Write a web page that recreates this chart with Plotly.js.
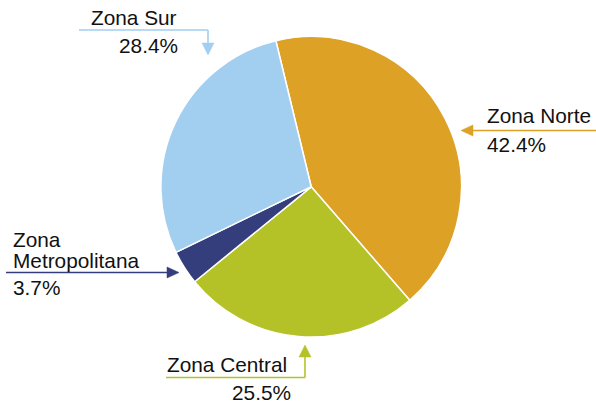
<!DOCTYPE html>
<html><head><meta charset="utf-8">
<script src="https://cdn.plot.ly/plotly-3.0.1.min.js"></script>
<style>html,body{margin:0;padding:0;background:#fff}#chart{width:596px;height:403px}</style>
</head><body><div id="chart"></div>
<script>
const categories = ["Zona Norte", "Zona Central", "Zona Metropolitana", "Zona Sur"];
const shares = [42.4, 25.5, 3.7, 28.4];
const colors = ["#DDA125", "#B5C227", "#343E7C", "#A2CEF0"];
const pctLabels = ["42.4%", "25.5%", "3.7%", "28.4%"];

const W = 596, H = 403;
const px = x => x / W, py = y => 1 - y / H;
const cx = 311.2, cy = 186.8, R = 150.3;
const font = {family: "Liberation Sans, Arial, sans-serif", size: 20.8, color: "#111"};

function txt(t, x, y) {
  return {text: t, x: px(x), y: py(y), xref: "paper", yref: "paper", xanchor: "left", yanchor: "middle",
          showarrow: false, font: font, borderpad: 0};
}
function line(x0, y0, x1, y1, c) {
  return {type: "line", xref: "paper", yref: "paper", x0: px(x0), y0: py(y0), x1: px(x1), y1: py(y1),
          line: {color: c, width: 1.6}};
}
function tri(pts, c) {
  const p = "M" + pts.map(q => px(q[0]) + "," + py(q[1])).join("L") + "Z";
  return {type: "path", xref: "paper", yref: "paper", path: p, fillcolor: c, line: {color: c, width: 0.5}};
}

const shapes = [
  // Zona Sur
  line(79, 30, 208, 30, colors[3]), line(208, 30, 208, 44, colors[3]),
  tri([[202, 43], [214, 43], [208, 55]], colors[3]),
  // Zona Norte
  line(472, 130.5, 596, 130.5, colors[0]),
  tri([[473, 125], [473, 136], [461, 130.5]], colors[0]),
  // Metropolitana
  line(6, 272.5, 168, 272.5, colors[2]),
  tri([[167, 267], [167, 278], [179, 272.5]], colors[2]),
  // Central
  line(166, 377.5, 305, 377.5, colors[1]), line(305, 377.5, 305, 356, colors[1]),
  tri([[299, 357], [311, 357], [305, 345]], colors[1])
];

const annotations = [
  txt(categories[3], 90, 18), txt(pctLabels[3], 118, 46),
  txt(categories[0], 486, 115.5), txt(pctLabels[0], 486, 144.5),
  txt("Zona", 12, 239), txt("Metropolitana", 12, 260.5), txt(pctLabels[2], 12, 287.5),
  txt("Zona Central", 166, 364.5), txt(pctLabels[1], 231, 392.5)
];

const trace = {
  type: "pie", labels: categories, values: shares, sort: false, direction: "clockwise",
  rotation: -13.6, textinfo: "none", hoverinfo: "label+percent",
  marker: {colors: colors, line: {color: "#ffffff", width: 1.5}},
  domain: {x: [px(cx - R), px(cx + R)], y: [py(cy + R), py(cy - R)]}
};

Plotly.newPlot("chart", [trace], {
  width: W, height: H, margin: {l: 0, r: 0, t: 0, b: 0},
  paper_bgcolor: "#fff", showlegend: false, shapes: shapes, annotations: annotations
}, {staticPlot: true});
</script></body></html>
